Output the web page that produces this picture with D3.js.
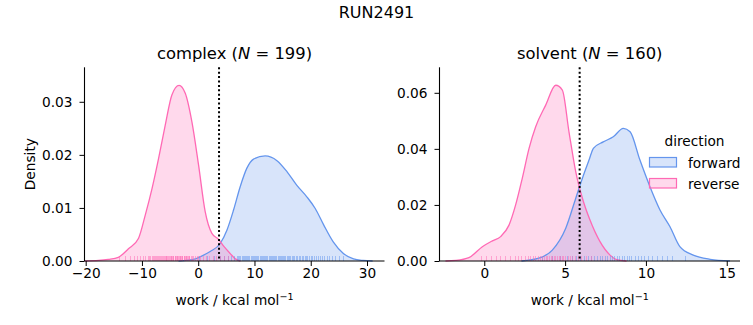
<!DOCTYPE html>
<html><head><meta charset="utf-8">
<script src="https://cdn.jsdelivr.net/npm/d3@7"></script>
<style>body{margin:0;background:#fff}svg{display:block;font-family:"DejaVu Sans",sans-serif}</style>
</head><body><svg id="c" width="753" height="325"></svg>
<script>
// ---- data ----
const suptitle = "RUN2491";
const panels = ["complex", "solvent"];
const panelN = [199, 160];
const directions = ["forward", "reverse"];
const colors = ["#6495ED", "#FF69B4"];
const dgLine = [3.7, 5.9];

const complexXTicks = [-20, -10, 0, 10, 20, 30];
const complexYTicks = [0, 0.01, 0.02, 0.03];
const solventXTicks = [0, 5, 10, 15];
const solventYTicks = [0, 0.02, 0.04, 0.06];

// KDE curves (x, density)
const complexFwdX = [-3.5, -0.5, 0.36, 2.13, 3.9, 5.1, 6.28, 7.46, 8.65, 9.83, 11.9, 14.0, 15.8, 17.5, 19.3, 20.8, 22.3, 24.0, 25.8, 27.6, 29.3, 31];
const complexFwdY = [0, 0.0004, 0.0008, 0.0018, 0.0033, 0.0058, 0.0096, 0.014, 0.0175, 0.0192, 0.0198, 0.0189, 0.0168, 0.0143, 0.0121, 0.0099, 0.0068, 0.0036, 0.0014, 0.0004, 0.0001, 0];
const complexRevX = [-20.2, -17.7, -16.0, -14.2, -12.4, -10.6, -9.4, -8.2, -7.05, -5.86, -4.68, -3.4, -2.3, -1.12, 0.06, 1.24, 2.43, 3.6, 4.6, 5.7, 6.6, 7.5];
const complexRevY = [0, 0.0001, 0.0003, 0.0007, 0.0023, 0.0043, 0.0087, 0.0137, 0.0193, 0.0256, 0.0313, 0.0331, 0.0316, 0.0262, 0.0181, 0.0093, 0.0052, 0.0041, 0.0027, 0.0014, 0.0004, 0];
const solventFwdX = [2.3, 3.38, 4.21, 5.04, 5.66, 6.07, 6.48, 6.75, 7.36, 7.98, 8.6, 9.02, 9.63, 10.25, 10.87, 11.49, 12.1, 12.93, 13.97, 15.2];
const solventFwdY = [0, 0.001, 0.0039, 0.0117, 0.0224, 0.0295, 0.036, 0.0402, 0.0425, 0.0443, 0.0473, 0.0461, 0.036, 0.0265, 0.0182, 0.0122, 0.0051, 0.0021, 0.0006, 0];
const solventRevX = [-2.4, -1.77, -0.95, -0.12, 0.5, 1.01, 1.53, 1.94, 2.35, 2.77, 3.18, 3.8, 4.42, 4.83, 5.24, 5.66, 6.07, 6.54, 7.16, 7.78, 8.19, 8.8];
const solventRevY = [0, 0.0002, 0.0012, 0.0051, 0.0072, 0.0087, 0.0128, 0.020, 0.0295, 0.0402, 0.0479, 0.0556, 0.0627, 0.061, 0.0461, 0.0318, 0.0224, 0.0146, 0.0069, 0.0021, 0.0005, 0];

// rug samples (work values)
const complexFwdRug = [0.2, 1.5, 2.8, 3.9, 4.6, 5.3, 5.9, 6.4, 6.9, 7.1, 7.3, 7.5, 7.7, 7.9, 8.1, 8.3, 8.5, 8.7, 8.9, 9.1, 9.3, 9.5, 9.7, 9.9, 10.1, 10.3, 10.5, 10.7, 10.9, 11.1, 11.3, 11.5, 11.7, 11.9, 12.1, 12.3, 12.5, 12.7, 12.9, 13.1, 13.3, 13.5, 13.7, 13.9, 14.1, 14.3, 14.5, 14.7, 14.9, 15.1, 15.3, 15.5, 15.7, 15.9, 16.1, 16.4, 16.6, 16.9, 17.1, 17.4, 17.6, 17.9, 18.1, 18.4, 18.6, 18.9, 19.1, 19.4, 19.7, 20.0, 20.3, 20.6, 20.9, 21.3, 21.6, 22.0, 22.4, 22.9, 23.3, 23.8, 24.4, 25.0, 25.7];
const complexRevRug = [-14.1, -13.0, -12.2, -11.5, -10.9, -10.3, -9.8, -9.4, -9.0, -8.8, -8.6, -8.3, -8.0, -7.8, -7.7, -7.5, -7.4, -7.1, -6.9, -6.8, -6.6, -6.4, -6.3, -6.1, -5.9, -5.8, -5.7, -5.5, -5.3, -5.2, -5.0, -4.9, -4.8, -4.6, -4.5, -4.4, -4.2, -4.1, -4.0, -3.8, -3.7, -3.6, -3.4, -3.3, -3.2, -3.0, -2.9, -2.8, -2.6, -2.5, -2.4, -2.2, -2.1, -2.0, -1.8, -1.7, -1.6, -1.3, -1.1, -0.9, -0.6, -0.3, 0.0, 0.4, 0.8, 1.3, 1.9, 2.6, 3.2, 3.9, 4.6, 5.3];
const solventFwdRug = [3.6, 4.2, 4.7, 5.1, 5.4, 5.7, 5.95, 6.2, 6.4, 6.6, 6.8, 7.0, 7.15, 7.3, 7.45, 7.6, 7.75, 7.9, 8.05, 8.2, 8.35, 8.5, 8.65, 8.8, 8.95, 9.1, 9.3, 9.5, 9.7, 9.9, 10.1, 10.4, 10.7, 11.0, 11.3, 11.6, 12.4];
const solventRevRug = [-0.2, 0.1, 0.4, 0.7, 1.0, 1.3, 1.6, 1.9, 2.1, 2.3, 2.5, 2.7, 2.85, 3.0, 3.15, 3.3, 3.45, 3.6, 3.7, 3.8, 3.9, 4.0, 4.1, 4.2, 4.3, 4.4, 4.5, 4.6, 4.7, 4.8, 4.9, 5.0, 5.15, 5.3, 5.45, 5.6, 5.8, 6.0, 6.3, 6.6];

// ---- drawing ----
const svg = d3.select("#c");
const FS = 13.7, TFS = 16.4;
svg.append("text").attr("x", 376.5).attr("y", 18).attr("text-anchor", "middle")
  .attr("font-size", 16).text(suptitle);

const panelCfg = [
  {x0: 84.5, x1: 384.5, xd: [-20.21, 33.11], yd: [0, 0.0365], xt: complexXTicks, yt: complexYTicks, yfmt: ".2f",
   curves: [[complexFwdX, complexFwdY], [complexRevX, complexRevY]], rugs: [complexFwdRug, complexRevRug], ylabel: true},
  {x0: 439.5, x1: 740, xd: [-2.77, 15.82], yd: [0, 0.0691], xt: solventXTicks, yt: solventYTicks, yfmt: ".2f",
   curves: [[solventFwdX, solventFwdY], [solventRevX, solventRevY]], rugs: [solventFwdRug, solventRevRug], ylabel: false}
];
const yTop = 67.3, yBot = 261;
const minus = s => s.replace(/-/g, "\u2212");

panelCfg.forEach((p, pi) => {
  const x = d3.scaleLinear().domain(p.xd).range([p.x0, p.x1]);
  const y = d3.scaleLinear().domain(p.yd).range([yBot, yTop]);
  const g = svg.append("g");

  // densities
  p.curves.forEach((c, ci) => {
    const pts = c[0].map((v, i) => [v, c[1][i]]);
    g.append("path").datum(pts)
      .attr("d", d3.area().x(d => x(d[0])).y0(y(0)).y1(d => y(d[1])).curve(d3.curveMonotoneX))
      .attr("fill", colors[ci]).attr("fill-opacity", 0.25);
  });
  p.curves.forEach((c, ci) => {
    const pts = c[0].map((v, i) => [v, c[1][i]]);
    g.append("path").datum(pts)
      .attr("d", d3.line().x(d => x(d[0])).y(d => y(d[1])).curve(d3.curveMonotoneX))
      .attr("fill", "none").attr("stroke", colors[ci]).attr("stroke-width", 1.3);
  });
  // rugs
  p.rugs.forEach((r, ri) => {
    g.selectAll(null).data(r).enter().append("line")
      .attr("x1", d => Math.round(x(d)) + 0.5).attr("x2", d => Math.round(x(d)) + 0.5)
      .attr("y1", yBot).attr("y2", yBot - 5)
      .attr("shape-rendering", "crispEdges")
      .attr("stroke", colors[ri]).attr("stroke-opacity", 0.5).attr("stroke-width", 1);
  });
  // dotted line
  g.append("line").attr("x1", x(dgLine[pi])).attr("x2", x(dgLine[pi]))
    .attr("y1", yTop).attr("y2", yBot)
    .attr("stroke", "#000").attr("stroke-width", 2).attr("stroke-dasharray", "2,2.4");

  // axes
  const xa = g.append("g").attr("transform", `translate(0,${yBot})`)
    .call(d3.axisBottom(x).tickValues(p.xt).tickSize(5).tickPadding(2).tickFormat(d => minus(d3.format("d")(d))));
  const ya = g.append("g").attr("transform", `translate(${p.x0},0)`)
    .call(d3.axisLeft(y).tickValues(p.yt).tickSize(5).tickPadding(7).tickFormat(d3.format(p.yfmt)));
  [xa, ya].forEach(a => {
    a.select(".domain").remove();
    a.selectAll("line").attr("stroke", "#000").attr("stroke-width", 1);
    a.selectAll("text").attr("font-size", FS).attr("fill", "#000").attr("font-family", "DejaVu Sans");
  });
  g.append("line").attr("x1", p.x0).attr("x2", p.x1).attr("y1", yBot).attr("y2", yBot).attr("stroke", "#000").attr("stroke-width", 1.1);
  g.append("line").attr("x1", p.x0).attr("x2", p.x0).attr("y1", yTop).attr("y2", yBot).attr("stroke", "#000").attr("stroke-width", 1.1);

  // titles & labels
  const cx = (p.x0 + p.x1) / 2;
  const t = g.append("text").attr("x", cx).attr("y", 59).attr("text-anchor", "middle").attr("font-size", TFS);
  t.append("tspan").text(panels[pi] + " (");
  t.append("tspan").attr("font-style", "italic").text("N");
  t.append("tspan").text(" = " + panelN[pi] + ")");

  const xl = g.append("text").attr("x", cx).attr("y", 305).attr("text-anchor", "middle").attr("font-size", FS);
  xl.append("tspan").text("work / kcal mol");
  xl.append("tspan").attr("dy", -5.5).attr("font-size", FS * 0.7).text("\u22121");

  if (p.ylabel) {
    g.append("text").attr("transform", `translate(35,${(yTop + yBot) / 2}) rotate(-90)`)
      .attr("text-anchor", "middle").attr("font-size", FS).text("Density");
  }
});

// legend
const lg = svg.append("g");
lg.append("text").attr("x", 694.5).attr("y", 146).attr("text-anchor", "middle").attr("font-size", FS).text("direction");
directions.forEach((d, i) => {
  const yy = 157.5 + i * 21;
  lg.append("rect").attr("x", 649.5).attr("y", yy).attr("width", 27).attr("height", 9.5)
    .attr("fill", colors[i]).attr("fill-opacity", 0.25).attr("stroke", colors[i]).attr("stroke-width", 1.2);
  lg.append("text").attr("x", 688).attr("y", yy + 10).attr("font-size", FS).text(d);
});
</script></body></html>
